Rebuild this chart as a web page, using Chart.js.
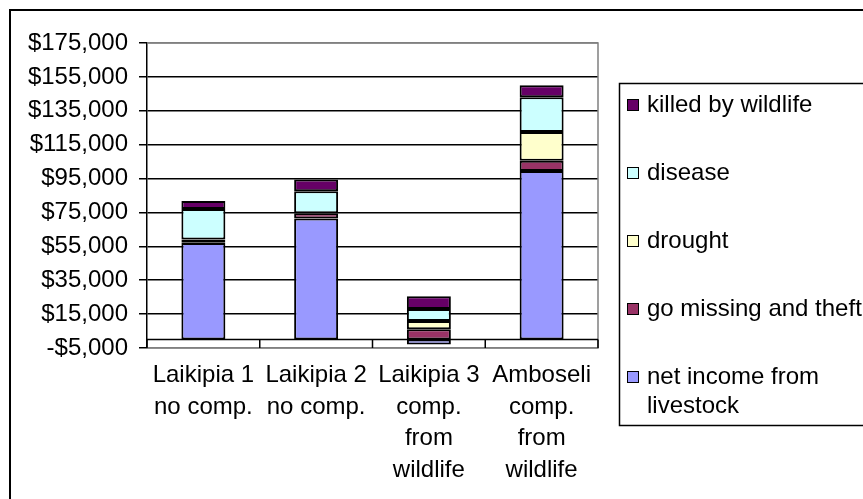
<!DOCTYPE html>
<html>
<head>
<meta charset="utf-8">
<script src="https://cdn.jsdelivr.net/npm/chart.js@4.4.1/dist/chart.umd.min.js"></script>
<style>
  html, body { margin: 0; padding: 0; background: #fff; }
  canvas { display: block; }
</style>
</head>
<body>
<canvas id="c" width="863" height="499"></canvas>
<script>
// Livestock income and losses per site (US$)
const categories = [
  ['Laikipia 1', 'no comp.'],
  ['Laikipia 2', 'no comp.'],
  ['Laikipia 3', 'comp.', 'from', 'wildlife'],
  ['Amboseli', 'comp.', 'from', 'wildlife']
];
const netIncome        = [57000, 71500, -3000, 99500];
const goMissing        = [400, 3000, 6000, 6000];
const drought          = [1600, 0, 5000, 17000];
const disease          = [18000, 13000, 7000, 20500];
const killedByWildlife = [4800, 7000, 7500, 7000];

const seriesNames = [
  'net income from livestock',
  'go missing and theft',
  'drought',
  'disease',
  'killed by wildlife'
];
const yMin = -5000, yMax = 175000, yStep = 20000;

const FONT = '"Liberation Sans", Arial, Helvetica, sans-serif';
const colors = ['#9999FF', '#993366', '#FFFFCC', '#CCFFFF', '#660066'];

function money(v) {
  const s = '$' + Math.abs(v).toLocaleString('en-US');
  return v < 0 ? '-' + s : s;
}

// White background and the frame around the whole chart
const framePlugin = {
  id: 'frame',
  beforeDraw(chart) {
    const ctx = chart.ctx;
    ctx.save();
    ctx.fillStyle = '#fff';
    ctx.fillRect(0, 0, chart.width, chart.height);
    ctx.strokeStyle = '#000';
    ctx.lineWidth = 2;
    ctx.beginPath();
    ctx.moveTo(10, chart.height + 2);
    ctx.lineTo(10, 10);
    ctx.lineTo(chart.width + 2, 10);
    ctx.stroke();
    ctx.restore();
  }
};

// Grey plot-area border, then the zero axis line with category tick marks
const plotAreaPlugin = {
  id: 'plotArea',
  beforeDatasetsDraw(chart) {
    const { ctx, chartArea: a } = chart;
    ctx.save();
    ctx.strokeStyle = '#808080';
    ctx.lineWidth = 1.5;
    ctx.beginPath();
    ctx.moveTo(a.left, a.top);
    ctx.lineTo(a.right, a.top);
    ctx.lineTo(a.right, a.bottom);
    ctx.lineTo(a.left, a.bottom);
    ctx.stroke();
    ctx.restore();
  },
  afterDatasetsDraw(chart) {
    const { ctx, chartArea: a, scales } = chart;
    const y0 = scales.y.getPixelForValue(0);
    const x = scales.x;
    const step = x.getPixelForValue(1) - x.getPixelForValue(0);
    ctx.save();
    ctx.strokeStyle = '#000';
    ctx.lineWidth = 1.5;
    ctx.beginPath();
    ctx.moveTo(a.left, y0);
    ctx.lineTo(a.right, y0);
    for (let i = 0; i <= categories.length; i++) {
      const px = x.getPixelForValue(i) - step / 2;
      ctx.moveTo(px, y0);
      ctx.lineTo(px, a.bottom);
    }
    ctx.stroke();
    ctx.restore();
  }
};

// Boxed legend, listed top-down from the last stacked series
const legendPlugin = {
  id: 'boxLegend',
  afterDraw(chart) {
    const ctx = chart.ctx;
    ctx.save();
    ctx.strokeStyle = '#000';
    ctx.lineWidth = 1.5;
    ctx.strokeRect(619.5, 83.5, 300, 342);
    ctx.font = '24px ' + FONT;
    ctx.textBaseline = 'middle';
    ctx.textAlign = 'left';
    const items = chart.data.datasets.slice().reverse();
    items.forEach((ds, i) => {
      const cy = 105 + i * 68;
      ctx.fillStyle = ds.backgroundColor;
      ctx.fillRect(627, cy - 6, 12, 12);
      ctx.lineWidth = 1;
      ctx.strokeStyle = '#000';
      ctx.strokeRect(627.5, cy - 5.5, 11, 11);
      // word wrap
      const words = ds.label.split(' ');
      const lines = [];
      let cur = '';
      words.forEach(w => {
        const t = cur ? cur + ' ' + w : w;
        if (ctx.measureText(t).width > 215 && cur) { lines.push(cur); cur = w; }
        else cur = t;
      });
      lines.push(cur);
      ctx.fillStyle = '#000';
      lines.forEach((l, j) => ctx.fillText(l, 647, cy + j * 29.5));
    });
    ctx.restore();
  }
};

const seriesValues = [netIncome, goMissing, drought, disease, killedByWildlife];

new Chart(document.getElementById('c'), {
  type: 'bar',
  data: {
    labels: categories,
    datasets: seriesValues.map((vals, i) => ({
      label: seriesNames[i],
      data: vals,
      backgroundColor: colors[i],
      borderColor: '#000',
      borderWidth: 2,
      borderSkipped: false,
      categoryPercentage: 1,
      barPercentage: 0.39
    }))
  },
  options: {
    responsive: false,
    animation: false,
    devicePixelRatio: 1,
    layout: { padding: { left: 0, top: 43, right: 265, bottom: 0 } },
    plugins: {
      legend: { display: false },
      tooltip: { enabled: false }
    },
    scales: {
      x: {
        stacked: true,
        grid: { display: false, drawTicks: false },
        border: { display: false },
        ticks: {
          color: '#000',
          font: { family: FONT, size: 24, lineHeight: '31.5px' },
          padding: 12,
          maxRotation: 0,
          autoSkip: false
        },
        afterFit(scale) { scale.height = 151; }
      },
      y: {
        stacked: true,
        min: yMin,
        max: yMax,
        ticks: {
          stepSize: yStep,
          color: '#000',
          font: { family: FONT, size: 24 },
          padding: 11,
          callback: v => money(v)
        },
        grid: {
          color: c => (c.tick && (c.tick.value === yMin || c.tick.value === yMax)) ? '#808080' : '#000',
          lineWidth: 1.5,
          tickLength: 8,
          tickColor: '#000'
        },
        border: { display: true, color: '#000', width: 1.5 },
        afterFit(scale) { scale.width = 147; }
      }
    }
  },
  plugins: [framePlugin, plotAreaPlugin, legendPlugin]
});
</script>
</body>
</html>
